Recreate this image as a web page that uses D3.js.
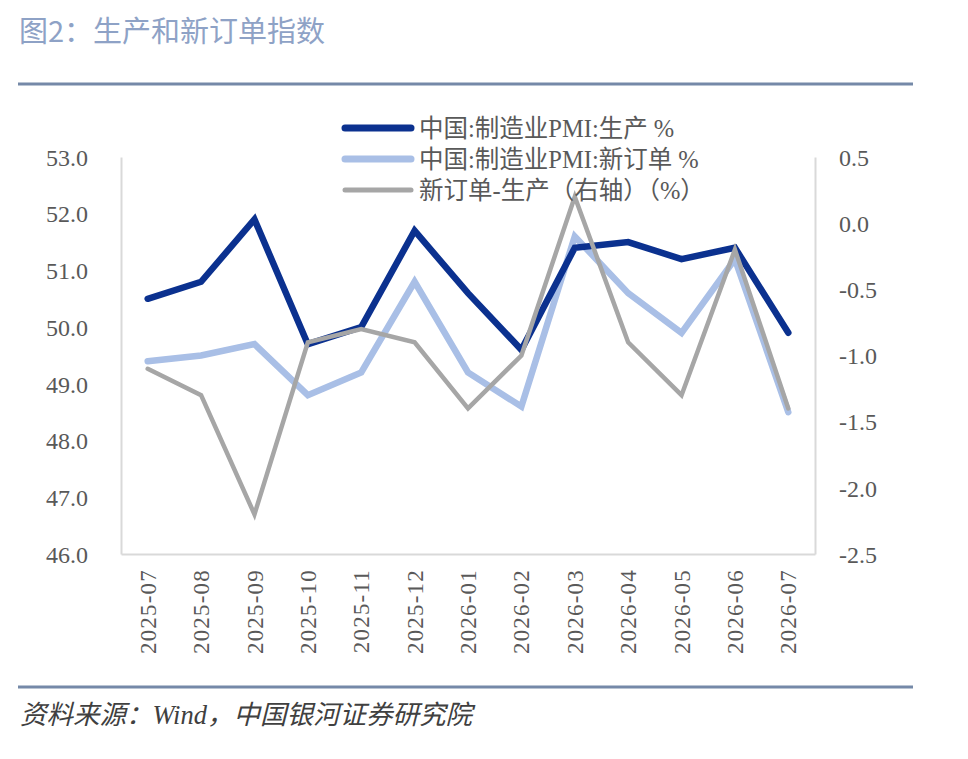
<!DOCTYPE html>
<html>
<head>
<meta charset="utf-8">
<script src="https://cdn.jsdelivr.net/npm/d3@7"></script>
<style>
  html, body { margin: 0; padding: 0; background: #fff; }
  svg { display: block; }
</style>
</head>
<body>
<div id="chart"></div>
<script>
// data
var months = ["2025-07", "2025-08", "2025-09", "2025-10", "2025-11", "2025-12",
              "2026-01", "2026-02", "2026-03", "2026-04", "2026-05", "2026-06", "2026-07"];
var production = [50.5, 50.8, 51.9, 49.7, 50.0, 51.7, 50.6, 49.6, 51.4, 51.5, 51.2, 51.4, 49.9];
var newOrders  = [49.4, 49.5, 49.7, 48.8, 49.2, 50.8, 49.2, 48.6, 51.6, 50.6, 49.9, 51.2, 48.5];
var spread     = [-1.1, -1.3, -2.2, -0.9, -0.8, -0.9, -1.4, -1.0, 0.2, -0.9, -1.3, -0.2, -1.4];
var leftTicks  = [46, 47, 48, 49, 50, 51, 52, 53];
var rightTicks = [-2.5, -2.0, -1.5, -1.0, -0.5, 0.0, 0.5];
var seriesNames = ["中国:制造业PMI:生产 %", "中国:制造业PMI:新订单 %", "新订单-生产（右轴）（%）"];

var W = 968, H = 759;
var serif = "'Liberation Serif', 'Noto Sans CJK SC', serif";
var cjk = "'Noto Sans CJK SC', sans-serif";

var svg = d3.select("#chart").append("svg")
    .attr("width", W).attr("height", H);

// title and rules
svg.append("text")
    .attr("x", 19).attr("y", 42)
    .attr("font-family", cjk).attr("font-size", 29)
    .attr("fill", "#8ea2c6")
    .text("图2：生产和新订单指数");

svg.append("line").attr("x1", 18).attr("x2", 913).attr("y1", 84).attr("y2", 84)
    .attr("stroke", "#7589a8").attr("stroke-width", 3);
svg.append("line").attr("x1", 18).attr("x2", 913).attr("y1", 687).attr("y2", 687)
    .attr("stroke", "#7589a8").attr("stroke-width", 3);

svg.append("text")
    .attr("x", 20).attr("y", 724)
    .attr("font-family", serif)
    .attr("font-style", "italic").attr("font-size", 26.5)
    .attr("fill", "#404040")
    .text("资料来源：Wind，中国银河证券研究院");

// plot box
var plotLeft = 121, plotRight = 815, plotTop = 157, plotBottom = 554;

var x = d3.scaleBand().domain(months).range([plotLeft, plotRight]);
var cx = function(m){ return x(m) + x.bandwidth() / 2; };
var yL = d3.scaleLinear().domain([46, 53]).range([plotBottom, plotTop]);
var yR = d3.scaleLinear().domain([-2.5, 0.5]).range([plotBottom, plotTop]);

// plain hyphen as minus, like the source chart
var fmt = function(d){ return d.toFixed(1); };

// axes
var axisL = svg.append("g").attr("transform", "translate(" + plotLeft + ",0)")
    .call(d3.axisLeft(yL).tickValues(leftTicks).tickFormat(fmt).tickSize(0).tickPadding(33));
var axisR = svg.append("g").attr("transform", "translate(" + plotRight + ",0)")
    .call(d3.axisRight(yR).tickValues(rightTicks).tickFormat(fmt).tickSize(0).tickPadding(24));
var axisB = svg.append("g").attr("transform", "translate(0," + plotBottom + ")")
    .call(d3.axisBottom(x).tickSize(0).tickPadding(0));

[axisL, axisR, axisB].forEach(function(g){
    g.select(".domain").attr("stroke", "#d9d9d9").attr("stroke-width", 2);
    g.selectAll("text").attr("font-family", serif).attr("fill", "#595959");
});
axisL.selectAll("text").attr("font-size", 24).attr("dy", "0.34em");
axisR.selectAll("text").attr("font-size", 24).attr("dy", "0.34em").attr("text-anchor", "start");
axisB.selectAll("text")
    .attr("font-size", 23)
    .attr("letter-spacing", "1.2px")
    .attr("text-anchor", "end")
    .attr("dy", "0.35em")
    .attr("transform", "translate(0,15) rotate(-90)");

// lines
var lineL = d3.line().x(function(d, i){ return cx(months[i]); }).y(function(d){ return yL(d); });
var lineR = d3.line().x(function(d, i){ return cx(months[i]); }).y(function(d){ return yR(d); });

var series = [
    { data: production, gen: lineL, color: "#0b318f", width: 6.5 },
    { data: newOrders,  gen: lineL, color: "#a9bfe6", width: 6.5 },
    { data: spread,     gen: lineR, color: "#a6a6a6", width: 4.5 }
];

// draw order: light blue, dark blue, grey on top
[1, 0, 2].forEach(function(k){
    var s = series[k];
    svg.append("path")
        .attr("d", s.gen(s.data))
        .attr("fill", "none")
        .attr("stroke", s.color)
        .attr("stroke-width", s.width)
        .attr("stroke-linejoin", "miter")
        .attr("stroke-linecap", "round");
});

// legend
var legend = svg.append("g").attr("transform", "translate(342,128)");
series.forEach(function(s, i){
    var g = legend.append("g").attr("transform", "translate(0," + (i * 31) + ")");
    g.append("line").attr("x1", 3).attr("x2", 69).attr("y1", 0).attr("y2", 0)
        .attr("stroke", s.color).attr("stroke-width", s.width + 0.5)
        .attr("stroke-linecap", "round");
    g.append("text").attr("x", 77).attr("y", 0).attr("dy", "0.36em")
        .attr("font-family", serif).attr("font-size", 24.5)
        .attr("fill", "#595959")
        .text(seriesNames[i]);
});
</script>
</body>
</html>
